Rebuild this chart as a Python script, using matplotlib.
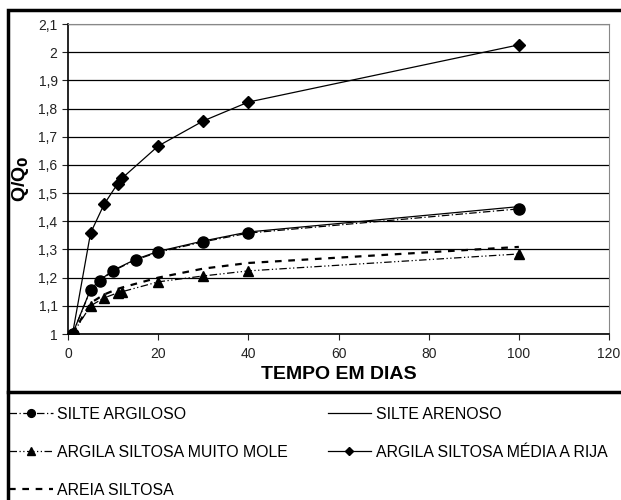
import matplotlib
matplotlib.use("Agg")
import matplotlib.pyplot as plt
from matplotlib.patches import Rectangle
from matplotlib.lines import Line2D
from matplotlib.ticker import FuncFormatter

plt.rcParams['font.family'] = ['Liberation Sans', 'DejaVu Sans']

# dados
t_argiloso = [1, 5, 7, 10, 15, 20, 30, 40, 100]
q_argiloso = [1.0, 1.156, 1.188, 1.224, 1.263, 1.290, 1.327, 1.358, 1.444]

t_arenoso = [1, 5, 7, 10, 15, 20, 30, 40, 100]
q_arenoso = [1.0, 1.158, 1.190, 1.226, 1.265, 1.293, 1.330, 1.362, 1.452]

t_mole = [1, 5, 8, 11, 12, 20, 30, 40, 100]
q_mole = [1.0, 1.100, 1.128, 1.146, 1.150, 1.185, 1.206, 1.224, 1.284]

t_rija = [1, 5, 8, 11, 12, 20, 30, 40, 100]
q_rija = [1.0, 1.358, 1.460, 1.533, 1.553, 1.667, 1.756, 1.823, 2.026]

t_areia = [1, 5, 8, 11, 12, 20, 30, 40, 100]
q_areia = [1.0, 1.110, 1.140, 1.160, 1.165, 1.200, 1.232, 1.252, 1.309]

fig = plt.figure(figsize=(6.21, 5.0), dpi=100)
ax = fig.add_axes([68/621, 1-334/500, (609-68)/621, (334-24)/500])

l1, = ax.plot(t_argiloso, q_argiloso, color='black', lw=0.9, ls=(0, (6, 2, 1, 2)),
              marker='o', ms=8, label='SILTE ARGILOSO')
l2, = ax.plot(t_arenoso, q_arenoso, color='black', lw=0.9, ls='-', label='SILTE ARENOSO')
l3, = ax.plot(t_mole, q_mole, color='black', lw=0.9, ls=(0, (6, 2, 1, 2, 1, 2)),
              marker='^', ms=7.5, label='ARGILA SILTOSA MUITO MOLE')
l4, = ax.plot(t_rija, q_rija, color='black', lw=0.9, ls='-',
              marker='D', ms=6, label='ARGILA SILTOSA MÉDIA A RIJA')
l5, = ax.plot(t_areia, q_areia, color='black', lw=1.6, ls=(0, (3, 3)), label='AREIA SILTOSA')

ax.set_xlim(0, 120)
ax.set_ylim(1.0, 2.1)
ax.set_xticks(range(0, 121, 20))
ax.set_yticks([1.0 + 0.1*i for i in range(12)])
fmt = FuncFormatter(lambda v, p: ('%g' % round(v, 1)).replace('.', ','))
ax.yaxis.set_major_formatter(fmt)
ax.xaxis.set_major_formatter(fmt)
ax.tick_params(labelsize=10, colors='#222222', length=4, direction='out')
ax.tick_params(axis='x', pad=5)
ax.yaxis.grid(True, color='black', lw=0.9)
ax.set_axisbelow(True)
for s in ['top', 'right']:
    ax.spines[s].set_color('#888888')
for s in ['left', 'bottom']:
    ax.spines[s].set_linewidth(1.2)

ax.set_xlabel('TEMPO EM DIAS', fontsize=14, fontweight='bold', labelpad=4)
ax.set_ylabel('Q/Q$_\\mathbf{0}$', fontsize=14, fontweight='bold', labelpad=5)

# moldura externa e separador
fig.add_artist(Rectangle((8/621, -0.1), 1.2, (1-10/500)+0.1, transform=fig.transFigure,
                         fill=False, edgecolor='black', lw=2.5))
fig.add_artist(Line2D([8/621, 1.0], [1-392/500, 1-392/500], transform=fig.transFigure,
                      color='black', lw=2.5))

handles = [l1, l3, l5, l2, l4]
fig.legend(handles=handles, labels=[h.get_label() for h in handles], ncol=2,
           loc='upper left', bbox_to_anchor=(9/621, 1-407/500), frameon=False,
           fontsize=11.4, handlelength=2.75, handletextpad=0.3, labelspacing=1.45,
           columnspacing=2.5, borderaxespad=0.0, borderpad=0.0, markerscale=0.7)

fig.savefig('out.png', dpi=100)
